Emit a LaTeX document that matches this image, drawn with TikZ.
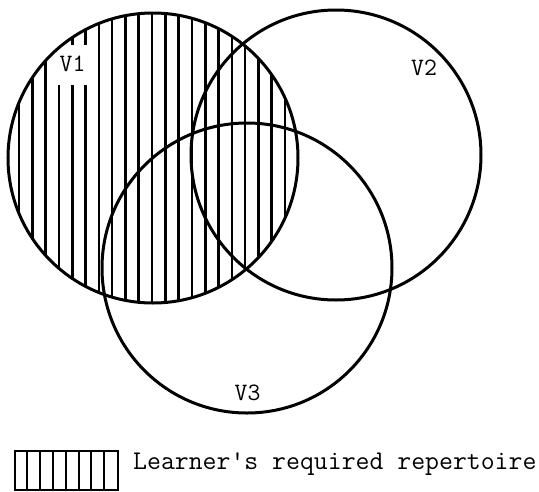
\documentclass[tikz,border=0pt]{standalone}
\begin{document}
\begin{tikzpicture}[x=1pt,y=-1pt,
  venn/.style={circle, draw=black, line width=3pt, minimum size=290pt, inner sep=0pt},
  hatchline/.style={line width=2.6pt, black},
  lbl/.style={font=\ttfamily\fontsize{25}{28}\selectfont, inner sep=0pt},
  legendtext/.style={font=\ttfamily\fontsize{27}{31}\selectfont, inner sep=0pt}]
\useasboundingbox (0,0) rectangle (539,491);
% hatching in V1
\begin{scope}
  \clip (153,158) circle (145pt);
  \foreach \i in {0,...,20} {
    \draw[hatchline] (19+13.3*\i,0) -- (19+13.3*\i,320);
  }
\end{scope}
% gap behind V1 label
\fill[white] (52,45) rectangle (94,85);
% circles
\node[venn] (v1) at (153,158) {};
\node[venn] (v2) at (336,155) {};
\node[venn] (v3) at (247,268) {};
% labels
\node[lbl] (l1) at (72.5,63.5) {V1};
\node[lbl] (l2) at (424,67.5) {V2};
\node[lbl] (l3) at (247.5,393) {V3};
% legend
\node[draw=black, line width=2.2pt, minimum width=103pt, minimum height=39pt, inner sep=0pt, anchor=north west] (key) at (14,450) {};
\foreach \k in {1,...,7} {
  \draw[line width=2pt] ([xshift=12.9pt*\k]key.north west) -- ([xshift=12.9pt*\k]key.south west);
}
\node[legendtext, anchor=base west] (keytext) at (133,469) {Learner's required repertoire};
\end{tikzpicture}
\end{document}
